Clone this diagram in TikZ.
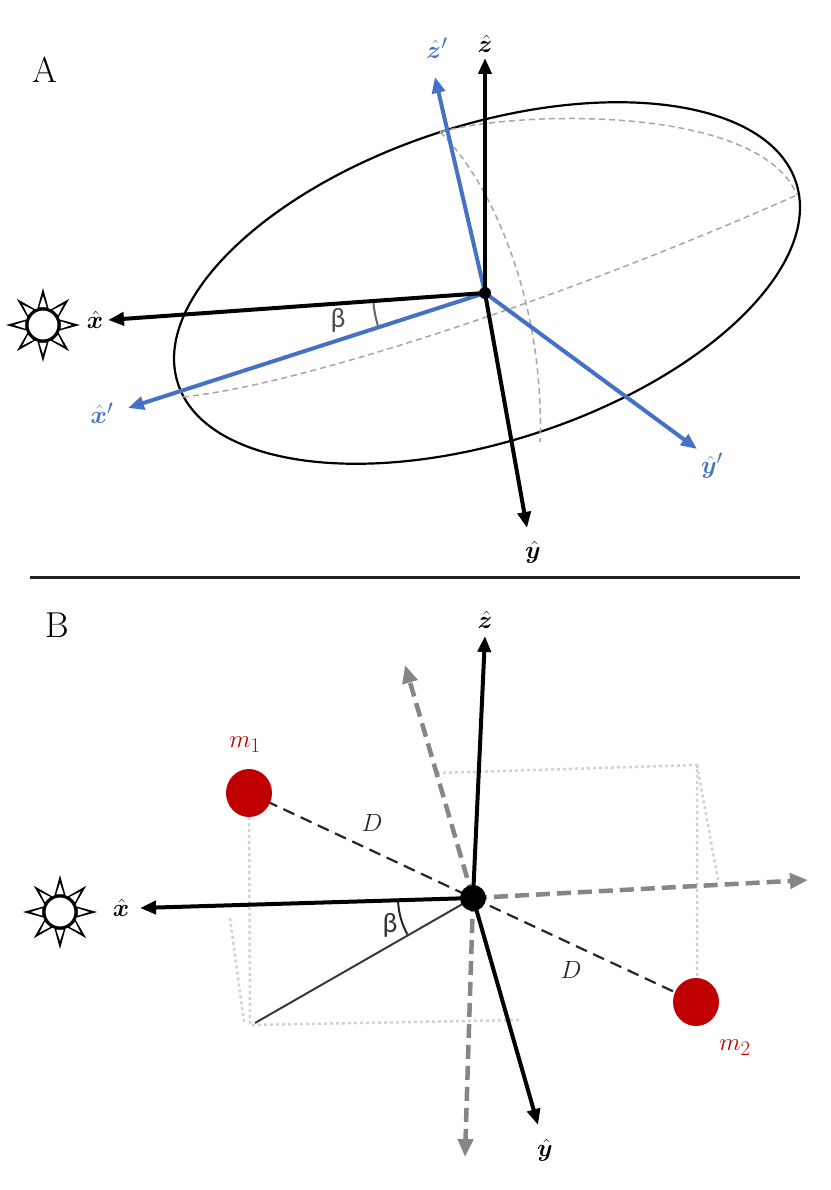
\documentclass[tikz,border=0pt]{standalone}
\usepackage{amsmath,bm}
\usepackage{fontspec}
\newfontfamily\grk{Carlito}
\usetikzlibrary{arrows.meta}
\begin{document}
\begin{tikzpicture}[x=1pt,y=-1pt,
 ax/.style={line width=4pt,-{Triangle[length=16pt,width=13pt]}},
 bx/.style={line width=4pt,draw={rgb,255:red,68;green,114;blue,196},-{Triangle[length=16pt,width=13pt]}},
 gx/.style={line width=4.5pt,draw=gray!95,dash pattern=on 14pt off 7pt,-{Triangle[length=18pt,width=15pt]}},
 dot/.style={line width=2.5pt,draw=gray!35,dash pattern=on 3pt off 3pt},
 lab/.style={font=\fontsize{28}{32}\selectfont}]
\definecolor{blu}{RGB}{68,114,196}
\definecolor{mred}{RGB}{192,0,0}
\useasboundingbox (0,0) rectangle (830,1190);
\newcommand{\mysun}[1]{%
 \begin{scope}[shift={#1}]
  \foreach \a in {0,45,...,315}{
   \fill[black] (\a:37) -- (\a+25:15) -- (\a-25:15) -- cycle;
   \fill[white] (\a:29) -- (\a+12:18) -- (\a-12:18) -- cycle;}
  \draw[line width=3pt,fill=white] (0,0) circle (16);
 \end{scope}}
% ---------- Panel A
\node[font=\fontsize{36}{36}\selectfont] (A) at (45,70) {A};
\coordinate (oa) at (485,293);
\draw[line width=2.2pt,rotate around={18:(487,283)}] (487,283) ellipse (325 and 158);
\draw[gray!70,line width=1.5pt,dash pattern=on 6pt off 4pt] (183,397) .. controls (300,385) and (560,300) .. (797,195);
\draw[gray!70,line width=1.5pt,dash pattern=on 6pt off 4pt] (440,132) .. controls (520,110) and (760,105) .. (797,195);
\draw[gray!70,line width=1.5pt,dash pattern=on 6pt off 4pt] (440,132) .. controls (490,180) and (545,300) .. (540,442);
\mysun{(43,325)}
\coordinate (xa) at (108,320); \coordinate (ya) at (527,528); \coordinate (za) at (485,58);
\coordinate (xpa) at (128,408); \coordinate (ypa) at (697,449); \coordinate (zpa) at (435,77);
\draw[bx] (oa) -- (xpa);
\draw[bx] (oa) -- (ypa);
\draw[bx] (oa) -- (zpa);
\draw[ax] (oa) -- (xa);
\draw[ax] (oa) -- (ya);
\draw[ax] (oa) -- (za);
\fill (oa) circle (6);
\draw[gray!80!black,line width=2pt] (oa) ++(175:112) arc[start angle=175,end angle=163,radius=112];
\node[lab,gray!60!black] (ba) at (338,320) {\grk β};
\node[lab] (lxa) at (95,320) {$\bm{\hat x}$};
\node[lab] (lya) at (533,552) {$\bm{\hat y}$};
\node[lab] (lza) at (485,44) {$\bm{\hat z}$};
\node[lab,blu] (lxpa) at (102,413) {$\bm{\hat x}'$};
\node[lab,blu] (lypa) at (712,466) {$\bm{\hat y}'$};
\node[lab,blu] (lzpa) at (437,48) {$\bm{\hat z}'$};
% separator
\draw[line width=3pt,gray!25!black] (30,577) -- (800,577);
% ---------- Panel B
\node[font=\fontsize{36}{36}\selectfont] (B) at (57,625) {B};
\coordinate (ob) at (473,898);
\coordinate (m1c) at (249,793); \coordinate (m2c) at (696,1002);
\draw[dot] (m1c) -- (250,1025) -- (520,1020);
\draw[dot] (230,918) -- (244,1022);
\draw[dot] (437,773) -- (697,765) -- (697,980);
\draw[dot] (697,765) -- (718,880);
\draw[line width=2pt,gray!45!black] (ob) -- (255,1023);
\draw[line width=2.2pt,gray!30!black,dash pattern=on 12pt off 7pt] (m1c) -- (ob) -- (m2c);
\draw[gx] (ob) -- (405,665);
\draw[gx] (ob) -- (808,880);
\draw[gx] (ob) -- (465,1157);
\mysun{(60,912)}
\draw[ax] (ob) -- (140,908);
\draw[ax] (ob) -- (538,1125);
\draw[ax] (ob) -- (485,636);
\fill (ob) circle (13);
\draw[gray!30!black,line width=2pt] (ob) ++(177:75) arc[start angle=177,end angle=151,radius=75];
\fill[mred] (m1c) ellipse (23 and 24);
\fill[mred] (m2c) ellipse (23 and 24);
\node[lab,mred] (lm1) at (245,745) {$m_1$};
\node[lab,mred] (lm2) at (735,1048) {$m_2$};
\node[lab,gray!30!black] (d1) at (372,823) {$D$};
\node[lab,gray!30!black] (d2) at (571,970) {$D$};
\node[lab,gray!40!black] (bb) at (390,925) {\grk β};
\node[lab] (lxb) at (121,908) {$\bm{\hat x}$};
\node[lab] (lyb) at (545,1150) {$\bm{\hat y}$};
\node[lab] (lzb) at (485,620) {$\bm{\hat z}$};
\end{tikzpicture}
\end{document}
